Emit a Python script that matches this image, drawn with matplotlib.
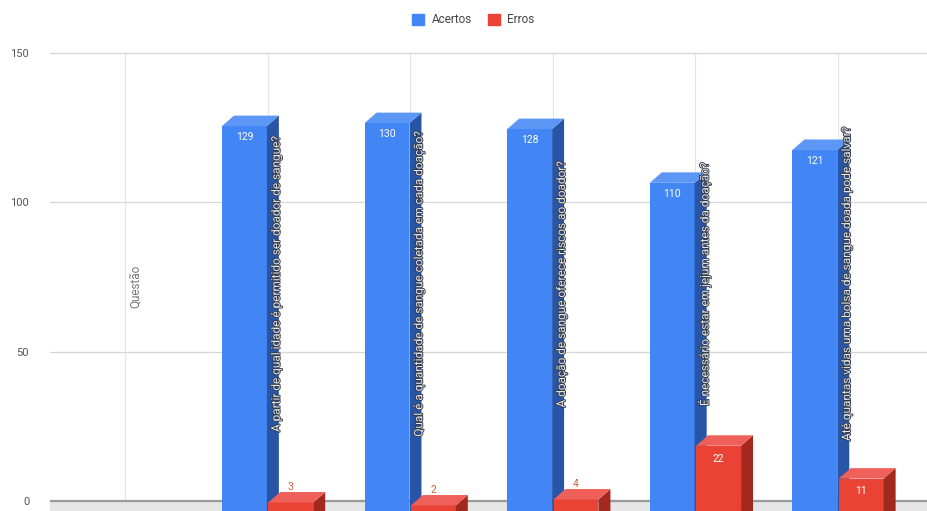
import matplotlib
matplotlib.use("Agg")
import matplotlib.pyplot as plt
import matplotlib.patheffects as pe
from matplotlib.patches import Patch

plt.rcParams["font.family"] = ["Roboto", "DejaVu Sans"]

# ── Data ──────────────────────────────────────────────────────────────────────
categories = [
    "Questão",
    "A partir de qual idade é permitido ser doador de sangue?",
    "Qual é a quantidade de sangue coletada em cada doação?",
    "A doação de sangue oferece riscos ao doador?",
    "É necessário estar em jejum antes da doação?",
    "Até quantas vidas uma bolsa de sangue doada pode salvar?",
]
acertos = [None, 129, 130, 128, 110, 121]
erros   = [None, 3, 2, 4, 22, 11]
yticks  = [0, 50, 100, 150]

# ── Styling ───────────────────────────────────────────────────────────────────
BLUE = ("#4285f4", "#2855a6", "#5d97f5")   # front, side, top
RED  = ("#ea4335", "#a3291f", "#f0605a")
BAR_W = 0.315
GAP   = 0.005
DX, DY = 0.084, 3.5                         # 3D depth offset (x in categories, y in values)

fig = plt.figure(figsize=(9.28, 5.11), dpi=100)
ax = fig.add_axes([50 / 928, 0, 878 / 928, 1])
ax.set_xlim(-0.526, 5.631)
ax.set_ylim(-3.35, 167.7)
for s in ax.spines.values():
    s.set_visible(False)
ax.set_xticks([])
ax.set_yticks(yticks)
ax.set_yticklabels([str(t) for t in yticks], fontsize=8, color="#555555")
ax.tick_params(axis="y", length=0, pad=15)

# back wall grid
for i in range(len(categories)):
    ax.plot([i, i], [0, 150], color="#e3e3e3", lw=0.8, zorder=1)
for t in yticks[1:]:
    ax.axhline(t, color="#d6d6d6", lw=0.9, zorder=1)
ax.axhspan(-10, 0, color="#e6e6e6", lw=0, zorder=1)
ax.axhline(0, color="#9a9a9a", lw=1.6, zorder=2)


def bar3d(x0, v, colors):
    x1 = x0 + BAR_W
    bottom = -20
    top = v - DY
    front, side, lid = colors
    ax.fill([x0, x1, x1, x0], [bottom, bottom, top, top], color=front, lw=0, zorder=3)
    ax.fill([x1, x1 + DX, x1 + DX, x1], [bottom, bottom, v, top], color=side, lw=0, zorder=3)
    ax.fill([x0, x1, x1 + DX, x0 + DX], [top, top, v, v], color=lid, lw=0, zorder=3)


for i, (a, e) in enumerate(zip(acertos, erros)):
    if a is None:
        continue
    bx = i - GAP - BAR_W
    rx = i + GAP
    bar3d(bx, a, BLUE)
    bar3d(rx, e, RED)

    ax.text(bx + BAR_W / 2, a - DY - 3.7, str(a), ha="center", va="center",
            fontsize=7.5, color="white", zorder=5)
    if e >= 10:
        ax.text(rx + BAR_W / 2, e - DY - 4.3, str(e), ha="center", va="center",
                fontsize=7.5, color="white", zorder=5)
    else:
        ax.text(rx + BAR_W / 2, e + 1.8, str(e), ha="center", va="center",
                fontsize=7.5, color="#c8653f", zorder=5)

# category labels, rotated along each group
for i, name in enumerate(categories):
    if i == 0:
        ax.text(i + 0.075, 72, name, rotation=90, ha="center", va="center",
                fontsize=8.5, color="#777777", zorder=6)
    else:
        ax.text(i + 0.06, 72, name, rotation=90, ha="center", va="center",
                fontsize=8.5, color="#e8e8e8", zorder=6,
                path_effects=[pe.withStroke(linewidth=1.3, foreground="#333a4a")])

handles = [Patch(color=BLUE[0]), Patch(color=RED[0])]
fig.legend(handles, ["Acertos", "Erros"], loc="center", bbox_to_anchor=(0.510, 0.961),
           ncol=2, frameon=False, fontsize=8.5, handlelength=1.0, handleheight=1.0,
           handletextpad=0.65, columnspacing=1.35, labelcolor="#444444")

fig.savefig("out.png", dpi=100)
